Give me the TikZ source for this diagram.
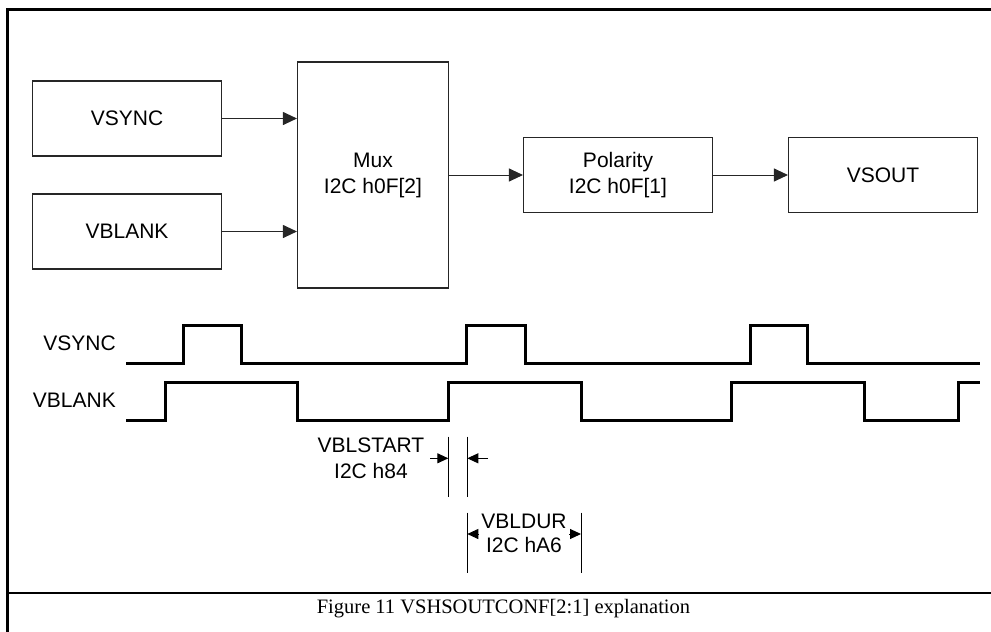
\documentclass[tikz,border=0pt]{standalone}
\usepackage{fontspec}
\setmainfont{Liberation Sans}
\newfontfamily\capfont{Liberation Serif}
\usetikzlibrary{arrows.meta}
\begin{document}
\begin{tikzpicture}[x=1pt,y=-1pt,
  txt/.style={font=\fontsize{21}{26}\selectfont, align=center, inner sep=0pt},
  blk/.style={draw=black!85, line width=1.1pt, minimum width=189pt, minimum height=75pt, txt},
  arr/.style={line width=1pt, draw=black!85, -{Triangle[length=14pt,width=13pt]}},
  wave/.style={line width=3pt, line join=miter, line cap=rect},
  dim/.style={line width=1pt},
  darr/.style={line width=1pt, -{Triangle[length=11pt,width=10pt]}},
  frame/.style={line width=2.6pt}]
\useasboundingbox (0,0) rectangle (991,632);

% frame
\coordinate (ftl) at (7.7,9.2);
\coordinate (ftr) at (991,9.2);
\coordinate (fbl) at (7.7,632);
\coordinate (fsl) at (7.7,593);
\coordinate (fsr) at (991,593);
\draw[frame] (fbl) -- (ftl) -- (ftr);
\draw[frame] (fsl) -- (fsr);

% block diagram
\node[blk] (vsync) at (127,118.5) {VSYNC};
\node[blk] (vblank) at (127,231.5) {VBLANK};
\node[blk, minimum width=151pt, minimum height=226pt] (mux) at (373,175) {Mux\\I2C h0F[2]};
\node[blk] (pol) at (618,175) {Polarity\\I2C h0F[1]};
\node[blk] (vsout) at (883,175) {VSOUT};

\draw[arr] (vsync.east) -- (vsync.east -| mux.west);
\draw[arr] (vblank.east) -- (vblank.east -| mux.west);
\draw[arr] (mux.east) -- (pol.west);
\draw[arr] (pol.east) -- (vsout.west);

% timing labels
\node[txt, anchor=east] (lvs) at (116,343) {VSYNC};
\node[txt, anchor=east] (lvb) at (116,400) {VBLANK};

% waveforms
\draw[wave] (127,363.5) -- (183.3,363.5) -- (183.3,325) -- (241.7,325) -- (241.7,363.5)
  -- (466.7,363.5) -- (466.7,325) -- (525,325) -- (525,363.5)
  -- (750,363.5) -- (750,325) -- (807.3,325) -- (807.3,363.5) -- (978.3,363.5);
\draw[wave] (127,420) -- (165,420) -- (165,382.7) -- (297.3,382.7) -- (297.3,420)
  -- (448.3,420) -- (448.3,382.7) -- (581,382.7) -- (581,420)
  -- (731.7,420) -- (731.7,382.7) -- (864,382.7) -- (864,420)
  -- (958.3,420) -- (958.3,382.7) -- (978.3,382.7);

% VBLSTART dimension
\coordinate (s1t) at (448.3,436.7);
\coordinate (s1b) at (448.3,496.7);
\coordinate (s2t) at (467.3,436.7);
\coordinate (s2b) at (467.3,496.7);
\draw[dim] (s1t) -- (s1b);
\draw[dim] (s2t) -- (s2b);
\coordinate (sa1) at (430,458.3);
\coordinate (sa2) at (488,458.3);
\draw[darr] (sa1) -- (sa1 -| s1t);
\draw[darr] (sa2) -- (sa2 -| s2t);
\node[txt] (vblstart) at (371,458) {VBLSTART\\I2C h84};

% VBLDUR dimension
\coordinate (d1t) at (467.3,512.7);
\coordinate (d1b) at (467.3,572.7);
\coordinate (d2t) at (581,512.7);
\coordinate (d2b) at (581,572.7);
\draw[dim] (d1t) -- (d1b);
\draw[dim] (d2t) -- (d2b);
\coordinate (da1) at (479,534);
\coordinate (da2) at (569,534);
\draw[darr] (da1) -- (da1 -| d1t);
\draw[darr] (da2) -- (da2 -| d2t);
\node[txt, font=\fontsize{21}{24}\selectfont] (vbldur) at (524,533) {VBLDUR\\I2C hA6};

% caption
\node[inner sep=0pt, font=\capfont\fontsize{20.5}{24}\selectfont] (cap) at (503.5,609) {Figure 11 VSHSOUTCONF[2:1] explanation};
\end{tikzpicture}
\end{document}
